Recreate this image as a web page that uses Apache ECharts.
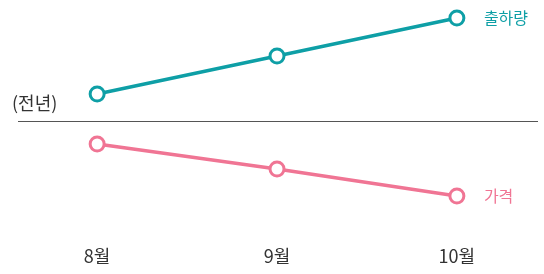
<!DOCTYPE html>
<html>
<head>
<meta charset="utf-8">
<script src="https://cdn.jsdelivr.net/npm/echarts@6/dist/echarts.min.js"></script>
<style>
  html, body { margin: 0; padding: 0; background: #fff; }
  #chart { width: 544px; height: 274px; }
</style>
</head>
<body>
<div id="chart"></div>
<script>
// categories and values (relative to last year = 0)
var months = ['8월', '9월', '10월'];
var shipment = [27, 65, 103];   // 출하량
var price = [-23, -48, -75];    // 가격
var baseName = '(전년)';

var FONT = '"Noto Sans CJK KR", "Noto Sans", sans-serif';

function pairs(arr) {
    return arr.map(function (v, i) { return [i, v]; });
}

var myChart = echarts.init(document.getElementById('chart'));
myChart.setOption({
    animation: false,
    grid: { left: 18, right: 6, top: 0, bottom: 37 },
    xAxis: {
        type: 'value',
        min: -0.44,
        max: 2.451,
        axisLine: { show: false },
        axisTick: { show: false },
        splitLine: { show: false },
        axisLabel: {
            customValues: [0, 1, 2],
            margin: 10,
            fontFamily: FONT,
            fontSize: 18,
            color: '#333',
            formatter: function (v) { return months[Math.round(v)]; }
        }
    },
    yAxis: {
        type: 'value',
        min: -116,
        max: 121,
        show: false
    },
    series: [
        {
            name: '출하량',
            type: 'line',
            data: pairs(shipment),
            symbol: 'circle',
            symbolSize: 14,
            itemStyle: { color: '#fff', borderColor: '#0e9fa6', borderWidth: 3 },
            lineStyle: { color: '#0e9fa6', width: 3.5 },
            endLabel: {
                show: true,
                formatter: '{a}',
                distance: 27,
                fontFamily: FONT,
                fontSize: 16,
                color: '#0e9fa6'
            },
            markLine: {
                silent: true,
                symbol: 'none',
                lineStyle: { color: '#555', width: 1, type: 'solid' },
                label: {
                    show: true,
                    position: 'insideStartTop',
                    formatter: baseName,
                    fontFamily: FONT,
                    fontSize: 18,
                    color: '#333',
                    distance: [-6, 9]
                },
                data: [{ yAxis: 0 }]
            },
            z: 3
        },
        {
            name: '가격',
            type: 'line',
            data: pairs(price),
            symbol: 'circle',
            symbolSize: 14,
            itemStyle: { color: '#fff', borderColor: '#f07594', borderWidth: 3 },
            lineStyle: { color: '#f07594', width: 3.5 },
            endLabel: {
                show: true,
                formatter: '{a}',
                distance: 27,
                fontFamily: FONT,
                fontSize: 16,
                color: '#f07594'
            },
            z: 3
        }
    ]
});
</script>
</body>
</html>
